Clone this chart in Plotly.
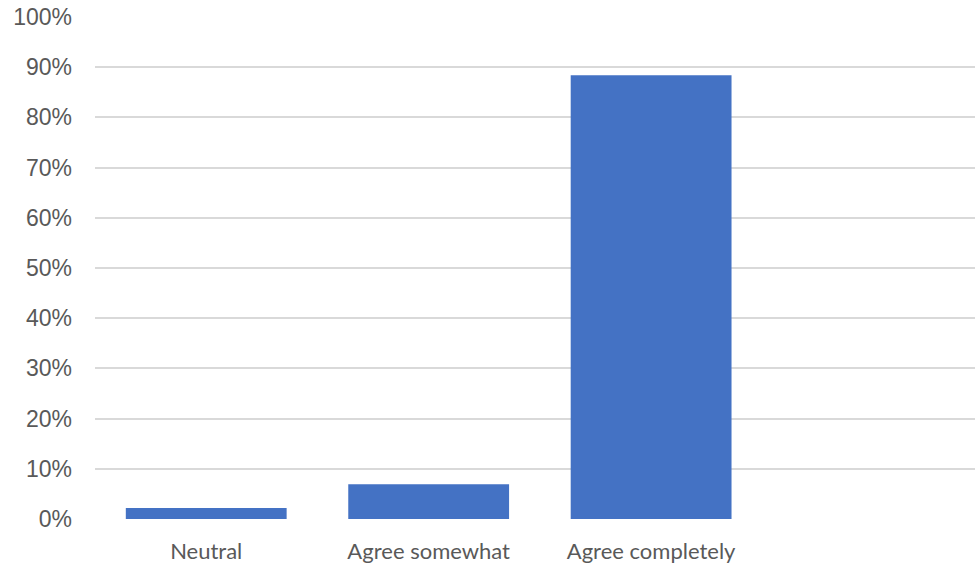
import plotly.graph_objects as go

categories = ["Neutral", "Agree somewhat", "Agree completely"]
values = [2.2, 6.9, 88.4]
y_ticks = [0, 10, 20, 30, 40, 50, 60, 70, 80, 90, 100]
y_tick_labels = [f"{v}%" for v in y_ticks]

fig = go.Figure(go.Bar(
    x=list(range(len(categories))),
    y=values,
    marker=dict(color="#4472C4", line=dict(width=0)),
    width=0.723,
))

fig.update_layout(
    width=975, height=564,
    margin=dict(l=95, r=0, t=17, b=45),
    paper_bgcolor="white", plot_bgcolor="white",
    showlegend=False,
    bargap=0.277,
)
fig.update_xaxes(
    range=[-0.5, 3.456],
    tickvals=list(range(len(categories))),
    ticktext=categories,
    showgrid=False, zeroline=False, showline=False,
    ticks="", ticklabelstandoff=17,
    tickfont=dict(family="Lato", size=22, color="#595959"),
)
fig.update_yaxes(
    range=[0, 100],
    tickvals=y_ticks, ticktext=y_tick_labels,
    showgrid=True, gridcolor="#d9d9d9", gridwidth=1.5,
    zeroline=False, showline=False, ticks="",
    ticklabelstandoff=22,
    tickfont=dict(family="Liberation Sans", size=23, color="#595959"),
)

fig.write_html("out.html")
